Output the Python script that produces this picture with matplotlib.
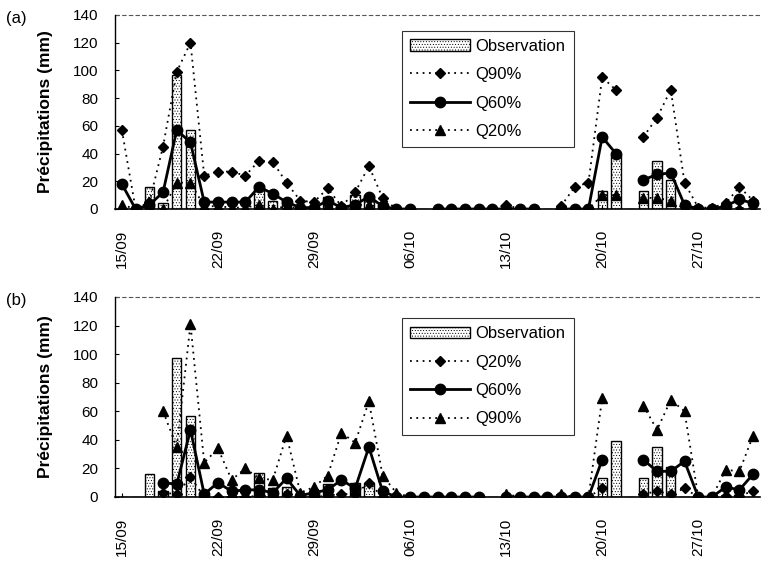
import numpy as np
import matplotlib
matplotlib.use('Agg')
import matplotlib.pyplot as plt
from matplotlib.patches import Patch
from matplotlib.lines import Line2D

nan = np.nan

# Daily values from 15/09 to 31/10 (47 days)
tick_labels = ['15/09', '22/09', '29/09', '06/10', '13/10', '20/10', '27/10']
tick_days = [0, 7, 14, 21, 28, 35, 42]

obs = [0, 0, 16, 4, 97, 57, 0, 0, 0, 0, 17, 6, 7, 0, 2, 9, 0, 10, 10, 0,
       0, 0, 0, 0, 0, 0, 0, 0, 0, 0, 0, 0, 0, 0, 0, 13, 39, 0, 13, 35,
       21, 0, 0, 0, 0, 0, 0]

# panel (a)
q90_a = [57, 0, 5, 45, 99, 120, 24, 27, 27, 24, 35, 34, 19, 6, 5, 15, 2, 12, 31, 8,
         0, 0, nan, 0, 0, 0, 0, 0, 3, 0, 0, nan, 2, 16, 19, 95, 86, nan, 52, 66,
         86, 19, 1, 1, 4, 16, 6]
q60_a = [18, 0, 3, 12, 57, 48, 5, 5, 5, 5, 16, 11, 5, 1, 1, 6, 1, 3, 9, 2,
         0, 0, nan, 0, 0, 0, 0, 0, 0, 0, 0, nan, 0, 0, 0, 52, 40, nan, 21, 25,
         26, 3, 0, 0, 2, 7, 4]
q20_a = [3, 0, 0, 0, 19, 19, 2, 2, 1, 1, 3, 0, 2, 0, 0, 3, 0, 3, 3, 1,
         0, 0, nan, 0, 0, 0, 0, 0, 0, 0, 0, nan, 0, 0, 0, 10, 10, nan, 8, 8,
         6, 0, 0, 0, 0, 1, 0]

# panel (b)
q20_b = [nan, nan, nan, 3, 2, 14, 0, 0, 0, 0, 1, 0, 2, 0, 0, 1, 2, 2, 10, 0,
         0, 0, 0, 0, 0, 0, 0, nan, 0, 0, 0, 0, 0, 0, 0, 6, nan, nan, 2, 4,
         2, 6, 0, 0, 1, 1, 4]
q60_b = [nan, nan, nan, 10, 9, 47, 2, 10, 4, 5, 5, 3, 13, 1, 3, 5, 12, 6, 35, 4,
         0, 0, 0, 0, 0, 0, 0, nan, 0, 0, 0, 0, 0, 0, 0, 26, nan, nan, 26, 18,
         18, 25, 0, 0, 7, 5, 16]
q90_b = [nan, nan, nan, 60, 35, 121, 24, 34, 12, 20, 13, 12, 43, 3, 7, 15, 45, 38, 67, 15,
         3, 0, 0, 0, 0, 0, 0, nan, 2, 0, 0, 0, 2, 0, 0, 69, nan, nan, 64, 47,
         68, 60, 0, 0, 19, 18, 43]

plt.rcParams['font.family'] = ['Liberation Sans', 'DejaVu Sans']
plt.rcParams['hatch.color'] = '#b0b0b0'
plt.rcParams['hatch.linewidth'] = 0.4

fig = plt.figure(figsize=(7.61, 5.61), dpi=100)
W, H = 761, 561
ax_a = fig.add_axes([115 / W, 1 - 209 / H, 645 / W, 194 / H])
ax_b = fig.add_axes([115 / W, 1 - 497 / H, 645 / W, 200 / H])

x = np.arange(len(obs))

dot_style = dict(color='black', linestyle=(0, (1, 2.5)), linewidth=1.3)
solid_style = dict(color='black', linestyle='-', linewidth=2)


def draw_panel(ax, series, legend_top):
    ax.bar(x, obs, width=0.68, color='white', edgecolor='black', linewidth=1,
           hatch='......', zorder=1)
    handles = [Patch(facecolor='white', edgecolor='black', hatch='......', label='Observation')]
    for name, vals, kind in series:
        if kind == 'diamond':
            st = dict(dot_style, marker='D', markersize=5)
        elif kind == 'triangle':
            st = dict(dot_style, marker='^', markersize=6.5)
        else:
            st = dict(solid_style, marker='o', markersize=7.5)
        ax.plot(x, vals, markerfacecolor='black', markeredgecolor='black', zorder=3, **st)
        handles.append(Line2D([], [], markerfacecolor='black', markeredgecolor='black',
                              label=name, **st))

    ax.set_xlim(-0.5, len(obs) - 0.5)
    ax.set_ylim(0, 140)
    ax.set_yticks(range(0, 141, 20))
    ax.set_xticks(tick_days)
    ax.set_xticklabels(tick_labels, rotation=90, fontsize=11)
    ax.tick_params(axis='y', labelsize=11, length=3, direction='in', pad=12)
    ax.tick_params(axis='x', length=3, direction='in', pad=15)
    ax.set_ylabel('Précipitations (mm)', fontsize=12.5, fontweight='bold', labelpad=14)
    for side in ['top', 'right']:
        ax.spines[side].set_visible(False)
    ax.spines['left'].set_linewidth(1)
    ax.spines['bottom'].set_linewidth(1.2)
    ax.axhline(140, color='#555555', linewidth=0.8, linestyle=(0, (4, 2)), clip_on=False)

    leg = ax.legend(handles=handles, loc='upper left', bbox_to_anchor=(0.445, legend_top),
                    fontsize=12, frameon=True, fancybox=False, handlelength=3.6,
                    handletextpad=0.3, labelspacing=0.8, borderpad=0.5, borderaxespad=0)
    leg.get_frame().set_edgecolor('black')
    leg.get_frame().set_linewidth(0.8)


draw_panel(ax_a, [('Q90%', q90_a, 'diamond'), ('Q60%', q60_a, 'circle'),
                  ('Q20%', q20_a, 'triangle')], 0.92)
draw_panel(ax_b, [('Q20%', q20_b, 'diamond'), ('Q60%', q60_b, 'circle'),
                  ('Q90%', q90_b, 'triangle')], 0.895)

fig.text(6 / W, 1 - 18 / H, '(a)', fontsize=12, va='center')
fig.text(6 / W, 1 - 300 / H, '(b)', fontsize=12, va='center')

fig.savefig('out.png', dpi=100)
